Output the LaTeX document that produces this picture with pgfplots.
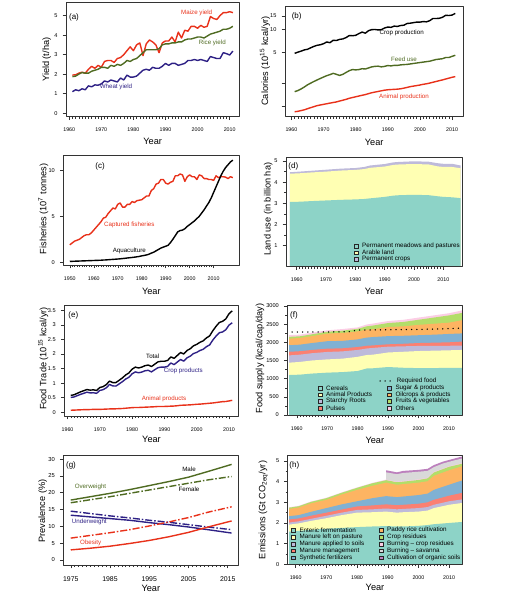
\documentclass[border=0pt]{standalone}
\usepackage{pgfplots}
\pgfplotsset{compat=1.18}
\usepackage{pgfplotstable}
\usepackage{fontspec}
\setmainfont{Liberation Sans}
\newfontfamily\rotfont{Liberation Sans}

\definecolor{cred}{HTML}{E8311A}
\definecolor{cgreen}{HTML}{4F6B22}
\definecolor{cblue}{HTML}{2E2185}
\definecolor{sA}{HTML}{8DD3C7}
\definecolor{sB}{HTML}{FFFFB3}
\definecolor{sC}{HTML}{BEBADA}
\definecolor{sD}{HTML}{FB8072}
\definecolor{sE}{HTML}{80B1D3}
\definecolor{sF}{HTML}{FDB462}
\definecolor{sG}{HTML}{B3DE69}
\definecolor{sH}{HTML}{FCCDE5}
\definecolor{sI}{HTML}{D9D9D9}
\definecolor{sJ}{HTML}{BC80BD}

\newcommand{\fs}[1]{\fontsize{#1}{#1}\selectfont}

\pgfplotsset{
  rp/.style={
    scale only axis, anchor=south west,
    axis line style={line width=0.5pt, black!80},
    tick align=outside, tick pos=left,
    major tick length=3.5pt, minor tick length=2.2pt,
    tick style={black!80, line width=0.45pt},
    xticklabel style={font=\fs{5.3}, yshift=-4.5pt},
    yticklabel style={font=\fs{5.6}, xshift=-1.5pt},
    /pgf/number format/assume math mode=true,
    /pgf/number format/1000 sep={},
    minor x tick num=9,
    line join=round,
  },
  ln/.style={line width=1.4pt, line join=round},
}

\newcommand{\lbl}[4][black]{\node[font=\fs{6.2}, text=#1, inner sep=0pt] at (#2pt,599pt-#3pt) {#4};}
\newcommand{\ylab}[3]{\node[rotate=90, font=\rotfont\fs{9.2}, inner sep=0pt] at (#1pt,599pt-#2pt) {#3};}
\newcommand{\xlab}[2]{\node[font=\fs{9.2}, inner sep=0pt] at (#1pt,599pt-#2pt) {Year};}
\newcommand{\plab}[3]{\node[font=\fs{8}, inner sep=0pt] at (#1pt,599pt-#2pt) {#3};}
\newcommand{\lsq}[4]{\draw[fill=#3, draw=black!85, line width=0.5pt] (#1pt-1.8pt,599pt-#2pt-1.8pt) rectangle ++(3.6pt,3.6pt);
  \node[anchor=west, font=\fs{6.3}, inner sep=0pt] at (#1pt+6pt,599pt-#2pt) {#4};}

\begin{document}

\pgfplotstableread{
yr maize rice wheat
1961 1.95 1.87 1.10
1962 1.97 1.90 1.20
1963 2.05 2.00 1.15
1964 2.10 2.08 1.25
1965 2.05 2.05 1.20
1966 2.25 2.05 1.40
1967 2.40 2.15 1.35
1968 2.30 2.20 1.45
1969 2.45 2.25 1.43
1970 2.35 2.35 1.50
1971 2.65 2.35 1.65
1972 2.70 2.30 1.60
1973 2.70 2.45 1.70
1974 2.60 2.40 1.65
1975 2.80 2.50 1.60
1976 2.85 2.45 1.80
1977 3.00 2.55 1.70
1978 3.20 2.70 1.95
1979 3.40 2.65 1.85
1980 3.20 2.75 1.85
1981 3.50 2.80 1.90
1982 3.60 2.95 2.05
1983 2.95 3.10 2.20
1984 3.55 3.25 2.25
1985 3.75 3.25 2.20
1986 3.65 3.25 2.35
1987 3.50 3.25 2.30
1988 3.10 3.30 2.30
1989 3.60 3.50 2.40
1990 3.70 3.55 2.55
1991 3.70 3.55 2.45
1992 3.90 3.60 2.55
1993 3.65 3.60 2.55
1994 4.15 3.65 2.45
1995 3.85 3.65 2.50
1996 4.25 3.75 2.55
1997 4.20 3.80 2.70
1998 4.45 3.80 2.70
1999 4.45 3.85 2.75
2000 4.35 3.90 2.70
2001 4.50 3.90 2.75
2002 4.40 3.85 2.70
2003 4.45 3.95 2.65
2004 4.95 4.05 2.90
2005 4.85 4.10 2.85
2006 4.80 4.15 2.80
2007 5.00 4.20 2.80
2008 5.15 4.30 3.10
2009 5.15 4.30 3.05
2010 5.20 4.35 2.98
2011 5.15 4.45 3.18
}\ta

\pgfplotstableread{
yr crop feed anim
1961 4.87 1.55 0.85
1962 5.05 1.60 0.86
1963 5.20 1.68 0.88
1964 5.40 1.78 0.90
1965 5.50 1.90 0.93
1966 5.75 2.00 0.96
1967 6.00 2.10 0.99
1968 6.20 2.20 1.02
1969 6.30 2.30 1.04
1970 6.50 2.40 1.06
1971 6.85 2.50 1.08
1972 6.70 2.58 1.10
1973 7.20 2.68 1.12
1974 7.15 2.60 1.14
1975 7.40 2.52 1.17
1976 7.50 2.60 1.20
1977 7.80 2.75 1.23
1978 8.30 2.90 1.27
1979 8.25 3.00 1.30
1980 8.35 2.97 1.33
1981 8.80 3.00 1.36
1982 9.20 3.08 1.39
1983 8.90 3.05 1.42
1984 9.60 3.15 1.46
1985 9.90 3.25 1.50
1986 9.95 3.30 1.53
1987 9.80 3.32 1.56
1988 9.90 3.25 1.59
1989 10.40 3.30 1.62
1990 10.70 3.38 1.64
1991 10.60 3.35 1.65
1992 11.00 3.40 1.66
1993 10.90 3.40 1.67
1994 11.20 3.45 1.69
1995 11.30 3.48 1.72
1996 11.90 3.50 1.76
1997 12.00 3.55 1.80
1998 12.20 3.60 1.83
1999 12.40 3.65 1.86
2000 12.40 3.70 1.89
2001 12.60 3.75 1.93
2002 12.50 3.80 1.96
2003 12.90 3.85 2.00
2004 13.80 3.95 2.05
2005 13.80 4.05 2.10
2006 13.90 4.10 2.15
2007 14.30 4.15 2.20
2008 15.20 4.30 2.26
2009 15.10 4.30 2.32
2010 15.30 4.45 2.38
2011 16.10 4.60 2.43
}\tb

\pgfplotstableread{
yr cap aqua
1950 1.9 0.10
1951 2.1 0.11
1952 2.3 0.12
1953 2.4 0.13
1954 2.5 0.14
1955 2.7 0.15
1956 2.9 0.16
1957 3.0 0.17
1958 3.0 0.18
1959 3.2 0.19
1960 3.5 0.20
1961 3.8 0.21
1962 4.1 0.22
1963 4.4 0.23
1964 4.8 0.25
1965 4.9 0.26
1966 5.3 0.28
1967 5.6 0.30
1968 5.9 0.32
1969 5.8 0.34
1970 6.3 0.36
1971 6.45 0.38
1972 6.0 0.41
1973 6.0 0.44
1974 6.3 0.47
1975 6.3 0.50
1976 6.6 0.53
1977 6.5 0.56
1978 6.7 0.60
1979 6.75 0.64
1980 6.8 0.70
1981 7.0 0.75
1982 7.2 0.80
1983 7.2 0.88
1984 7.8 1.00
1985 8.0 1.10
1986 8.5 1.25
1987 8.6 1.40
1988 9.0 1.55
1989 9.0 1.65
1990 8.6 1.75
1991 8.5 1.85
1992 8.7 2.15
1993 8.8 2.50
1994 9.4 2.90
1995 9.4 3.30
1996 9.6 3.45
1997 9.5 3.50
1998 8.8 3.65
1999 9.3 3.90
2000 9.5 4.10
2001 9.3 4.30
2002 9.3 4.50
2003 9.0 4.75
2004 9.5 5.00
2005 9.4 5.35
2006 9.1 5.70
2007 9.1 6.10
2008 9.0 6.50
2009 9.0 7.00
2010 8.9 7.60
2011 9.4 8.20
2012 9.2 8.80
2013 9.3 9.40
2014 9.3 9.90
2015 9.25 10.30
2016 9.1 10.60
2017 9.3 10.90
2018 9.2 11.10
}\tc

\pgfplotstableread{
x mea ara cro
1957.7 3.06 4.40 4.47
1961 3.07 4.42 4.50
1965 3.10 4.46 4.54
1970 3.13 4.50 4.59
1975 3.16 4.55 4.64
1980 3.18 4.58 4.67
1983 3.20 4.62 4.72
1985 3.23 4.68 4.79
1990 3.30 4.74 4.86
1993 3.36 4.82 4.94
1995 3.38 4.84 4.96
2000 3.40 4.86 4.99
2005 3.38 4.84 4.97
2008 3.33 4.75 4.90
2010 3.30 4.72 4.87
2013 3.28 4.72 4.87
2015.9 3.24 4.66 4.79
}\td

\pgfplotstableread{
yr tot crop anim
1961 0.58 0.510 0.070
1962 0.60 0.525 0.075
1963 0.65 0.570 0.080
1964 0.70 0.615 0.085
1965 0.74 0.650 0.090
1966 0.78 0.690 0.090
1967 0.76 0.665 0.095
1968 0.77 0.670 0.100
1969 0.75 0.650 0.100
1970 0.85 0.750 0.100
1971 0.88 0.775 0.105
1972 0.95 0.840 0.110
1973 1.07 0.955 0.115
1974 1.02 0.905 0.115
1975 1.02 0.900 0.120
1976 1.10 0.975 0.125
1977 1.18 1.050 0.130
1978 1.28 1.140 0.140
1979 1.35 1.200 0.150
1980 1.48 1.320 0.160
1981 1.55 1.385 0.165
1982 1.52 1.355 0.165
1983 1.55 1.380 0.170
1984 1.60 1.425 0.175
1985 1.62 1.440 0.180
1986 1.57 1.385 0.185
1987 1.65 1.460 0.190
1988 1.73 1.530 0.200
1989 1.75 1.550 0.200
1990 1.75 1.550 0.200
1991 1.78 1.575 0.205
1992 1.90 1.690 0.210
1993 1.85 1.635 0.215
1994 1.95 1.725 0.225
1995 2.05 1.810 0.240
1996 2.00 1.755 0.245
1997 2.12 1.870 0.250
1998 2.18 1.925 0.255
1999 2.28 2.015 0.265
2000 2.33 2.055 0.275
2001 2.40 2.120 0.280
2002 2.45 2.160 0.290
2003 2.55 2.250 0.300
2004 2.62 2.310 0.310
2005 2.80 2.480 0.320
2006 2.95 2.615 0.335
2007 3.08 2.730 0.350
2008 3.12 2.755 0.365
2009 3.20 2.830 0.370
2010 3.38 2.990 0.390
2011 3.48 3.070 0.410
}\te

\pgfplotstableread{
x cer ani sta pul sug oil fru oth
1957.5 1100 1440 1640 1740 1920 2100 2150 2200
1961 1110 1460 1660 1755 1935 2120 2165 2210
1965 1140 1500 1700 1790 1980 2170 2220 2265
1970 1165 1530 1735 1825 2030 2240 2290 2330
1975 1180 1550 1750 1835 2040 2260 2320 2365
1980 1210 1600 1790 1870 2080 2300 2370 2410
1983 1280 1650 1830 1905 2130 2350 2440 2490
1985 1285 1660 1845 1915 2145 2360 2460 2515
1990 1320 1720 1880 1945 2170 2420 2530 2585
1995 1300 1740 1890 1960 2180 2440 2560 2620
2000 1290 1760 1900 1980 2195 2480 2620 2680
2005 1290 1770 1900 1990 2210 2510 2680 2740
2010 1300 1780 1905 2000 2230 2540 2740 2800
2014.4 1300 1790 1910 2020 2245 2610 2810 2880
}\tf

\pgfplotstableread{
x req
1958.5 2283
1970 2285
1977 2290
1980 2335
1990 2345
2000 2355
2010 2375
2013.5 2390
}\tfr

\pgfplotstableread{
yr owm owf uwm uwf obm obf
1975 17.8 17.0 13.3 14.5 3.0 6.5
1980 18.8 17.9 12.8 13.8 3.5 7.3
1985 19.8 18.8 12.3 13.1 4.1 8.1
1990 20.9 19.8 11.8 12.5 4.9 9.0
1995 22.1 20.8 11.1 11.8 5.8 10.1
2000 23.3 21.8 10.5 11.2 6.9 11.3
2005 24.6 22.8 9.8 10.5 8.2 12.6
2010 26.3 23.8 9.0 9.8 9.8 14.2
2016 28.4 24.8 8.0 9.0 11.6 15.8
}\tg

\pgfplotstableread{
x tea yel lav sal blu ora gre pin
1957.9 1.58 1.92 2.02 2.17 2.33 2.68 2.74 2.76
1961 1.62 1.98 2.08 2.22 2.38 2.75 2.81 2.83
1965 1.67 2.10 2.20 2.35 2.54 2.95 3.02 3.04
1970 1.72 2.23 2.35 2.50 2.72 3.12 3.20 3.22
1975 1.76 2.38 2.50 2.65 2.90 3.38 3.46 3.48
1980 1.80 2.50 2.63 2.80 3.05 3.60 3.70 3.72
1985 1.83 2.52 2.66 2.85 3.20 3.80 3.92 3.94
1989.5 1.85 2.55 2.70 2.90 3.30 3.95 4.07 4.10
1993 1.83 2.50 2.66 2.86 3.25 3.85 3.97 4.00
1995 1.83 2.52 2.68 2.88 3.28 3.88 4.00 4.03
2000 1.86 2.55 2.72 2.93 3.35 3.95 4.08 4.11
2003 1.90 2.60 2.77 3.00 3.42 4.02 4.16 4.19
2005 1.94 2.72 2.88 3.12 3.60 4.28 4.44 4.47
2010 2.00 2.88 3.05 3.32 3.85 4.55 4.72 4.75
2014.3 2.05 2.97 3.14 3.46 4.06 4.75 4.87 4.90
}\th

\pgfplotstableread{
x gry pur
1989.5 4.45 4.55
1993 4.36 4.45
1995 4.42 4.52
2000 4.48 4.57
2003 4.52 4.62
2005 4.70 4.80
2008 4.88 4.97
2010 4.96 5.05
2012 5.04 5.13
2014.3 5.12 5.22
}\thb

\begin{tikzpicture}
\useasboundingbox (0,0) rectangle (504pt,599pt);

% ---------------- (a)
\begin{axis}[rp, at={(66pt,482.3pt)}, width=173.3pt, height=114pt,
  xmin=1959, xmax=2013, ymin=-0.18, ymax=5.66,
  xtick={1960,1970,...,2010}, ytick={0,1,...,5}]
\addplot[ln, cred] table[x=yr,y=maize] {\ta};
\addplot[ln, cgreen] table[x=yr,y=rice] {\ta};
\addplot[ln, cblue] table[x=yr,y=wheat] {\ta};
\end{axis}
\plab{74}{17.7}{(a)}
\lbl[cred]{196.7}{13.3}{Maize yield}
\lbl[cgreen]{212.3}{42.7}{Rice yield}
\lbl[cblue]{116}{87.3}{Wheat yield}
\ylab{46.7}{59.7}{Yield (t/ha)}
\xlab{152.65}{141.7}

% ---------------- (b)
\begin{axis}[rp, at={(285pt,482.3pt)}, width=178.3pt, height=110pt,
  ymode=log, xmin=1958, xmax=2013.5, ymin=0.733, ymax=19.66,
  xtick={1960,1970,...,2010}, ytick={1,2,5,10,15}, yticklabels={,,5,10,15},
  yminorticks=false]
\addplot[ln, black] table[x=yr,y=crop] {\tb};
\addplot[ln, cgreen] table[x=yr,y=feed] {\tb};
\addplot[ln, cred] table[x=yr,y=anim] {\tb};
\end{axis}
\plab{296.7}{16.7}{(b)}
\lbl{401.7}{32.7}{Crop production}
\lbl[cgreen]{404}{59.3}{Feed use}
\lbl[cred]{404}{97.3}{Animal production}
\ylab{265}{61}{Calories (10\textsuperscript{15} kcal/yr)}
\xlab{374.15}{142.7}

% ---------------- (c)
\begin{axis}[rp, at={(63.3pt,334pt)}, width=176pt, height=110pt,
  xmin=1947.3, xmax=2020.7, ymin=-0.29, ymax=11.66,
  xtick={1950,1960,...,2010}, ytick={0,5,10}]
\addplot[ln, cred] table[x=yr,y=cap] {\tc};
\addplot[ln, black] table[x=yr,y=aqua] {\tc};
\end{axis}
\plab{100}{166.7}{(c)}
\lbl[cred]{129.3}{225.3}{Captured fisheries}
\lbl{129.3}{250.7}{Aquaculture}
\ylab{43.3}{209}{Fisheries (10\textsuperscript{7} tonnes)}
\xlab{151.3}{291.7}

% ---------------- (d)
\begin{axis}[rp, at={(286pt,332.6pt)}, width=176.3pt, height=109.1pt,
  xmin=1956.35, xmax=2016.46, ymin=0, ymax=5.18, axis on top,
  xtick={1960,1970,...,2010}, ytick={1,...,5}, minor y tick num=1]
\addplot[fill=sC, draw=none] table[x=x,y=cro] {\td} \closedcycle;
\addplot[fill=sB, draw=none] table[x=x,y=ara] {\td} \closedcycle;
\addplot[fill=sA, draw=none] table[x=x,y=mea] {\td} \closedcycle;
\end{axis}
\plab{293.3}{166.7}{(d)}
\lsq{356}{246}{sA}{Permanent meadows and pastures}
\lsq{356}{252.7}{sB}{Arable land}
\lsq{356}{259.3}{sC}{Permanent crops}
\ylab{268.3}{209}{Land use (in billion ha)}
\xlab{374.15}{291}

% ---------------- (e)
\begin{axis}[rp, at={(64.3pt,183pt)}, width=174.4pt, height=111pt,
  xmin=1959, xmax=2013, ymin=-0.127, ymax=3.68,
  xtick={1960,1970,...,2010}, ytick={0,0.5,...,3.5},
  yticklabel style={/pgf/number format/fixed}]
\addplot[ln, black] table[x=yr,y=tot] {\te};
\addplot[ln, cblue] table[x=yr,y=crop] {\te};
\addplot[ln, cred] table[x=yr,y=anim] {\te};
\end{axis}
\plab{73.3}{315.7}{(e)}
\lbl{152.7}{356.7}{Total}
\lbl[cblue]{183.3}{371}{Crop products}
\lbl[cred]{164}{399.3}{Animal products}
\ylab{43.3}{358.5}{Food Trade (10\textsuperscript{15} kcal/yr)}
\xlab{151.5}{439.3}

% ---------------- (f)
\begin{axis}[rp, at={(287.3pt,184pt)}, width=175pt, height=110pt,
  xmin=1956.9, xmax=2014.4, ymin=0, ymax=3027, axis on top,
  xtick={1960,1970,...,2010}, ytick={0,500,...,3000}, minor y tick num=1]
\addplot[fill=sH, draw=none] table[x=x,y=oth] {\tf} \closedcycle;
\addplot[fill=sG, draw=none] table[x=x,y=fru] {\tf} \closedcycle;
\addplot[fill=sF, draw=none] table[x=x,y=oil] {\tf} \closedcycle;
\addplot[fill=sE, draw=none] table[x=x,y=sug] {\tf} \closedcycle;
\addplot[fill=sD, draw=none] table[x=x,y=pul] {\tf} \closedcycle;
\addplot[fill=sC, draw=none] table[x=x,y=sta] {\tf} \closedcycle;
\addplot[fill=sB, draw=none] table[x=x,y=ani] {\tf} \closedcycle;
\addplot[fill=sA, draw=none] table[x=x,y=cer] {\tf} \closedcycle;
\addplot[black, line width=1.5pt, line cap=round, dash pattern=on 0pt off 5.2pt] table[x=x,y=req] {\tfr};
\end{axis}
\plab{294}{315.7}{(f)}
\draw[black, line width=1.5pt, line cap=round, dash pattern=on 0pt off 5pt] (380pt,218pt) -- (391pt,218pt);
\node[anchor=west, font=\fs{6.3}, inner sep=0pt] at (396.7pt,218pt) {Required food};
\lsq{320}{388}{sA}{Cereals}
\lsq{320}{394.7}{sB}{Animal Products}
\lsq{320}{401.3}{sC}{Starchy Roots}
\lsq{320}{408.3}{sD}{Pulses}
\lsq{389.3}{388}{sE}{Sugar \& products}
\lsq{389.3}{394.7}{sF}{Oilcrops \& products}
\lsq{389.3}{401.3}{sG}{Fruits \& vegetables}
\lsq{389.3}{408.3}{sH}{Others}
\ylab{260}{358.5}{Food supply (kcal/cap/day)}
\xlab{374.8}{440}

% ---------------- (g)
\begin{axis}[rp, at={(63.3pt,34pt)}, width=175pt, height=110pt,
  xmin=1973.1, xmax=2017.7, ymin=-1.49, ymax=31.19,
  xtick={1975,1985,...,2015}, ytick={0,5,...,30},
  xticklabel style={font=\fs{6.9}}, yticklabel style={font=\fs{5.8}}]
\addplot[ln, cgreen] table[x=yr,y=owm] {\tg};
\addplot[ln, cgreen, dash pattern=on 7pt off 2pt on 1.5pt off 2pt] table[x=yr,y=owf] {\tg};
\addplot[ln, cblue] table[x=yr,y=uwm] {\tg};
\addplot[ln, cblue, dash pattern=on 7pt off 2pt on 1.5pt off 2pt] table[x=yr,y=uwf] {\tg};
\addplot[ln, cred] table[x=yr,y=obm] {\tg};
\addplot[ln, cred, dash pattern=on 7pt off 2pt on 1.5pt off 2pt] table[x=yr,y=obf] {\tg};
\end{axis}
\plab{71}{465}{(g)}
\lbl[cgreen]{90.5}{486.7}{Overweight}
\lbl{189}{469.3}{Male}
\lbl{189}{489.3}{Female}
\lbl[cblue]{89.3}{521.7}{Underweight}
\lbl[cred]{90.7}{543.3}{Obesity}
\ylab{42.7}{511}{Prevalence (\%)}
\xlab{150.8}{588.3}

% ---------------- (h)
\begin{axis}[rp, at={(287.7pt,34.7pt)}, width=174.6pt, height=109.3pt,
  xmin=1957.4, xmax=2014.3, ymin=0, ymax=5.29, axis on top,
  xtick={1960,1970,...,2010}, ytick={0,...,5}, minor y tick num=1]
\addplot[fill=sJ, draw=none] table[x=x,y=pur] {\thb} \closedcycle;
\addplot[fill=sI, draw=none] table[x=x,y=gry] {\thb} \closedcycle;
\addplot[fill=sH, draw=none] table[x=x,y=pin] {\th} \closedcycle;
\addplot[fill=sG, draw=none] table[x=x,y=gre] {\th} \closedcycle;
\addplot[fill=sF, draw=none] table[x=x,y=ora] {\th} \closedcycle;
\addplot[fill=sE, draw=none] table[x=x,y=blu] {\th} \closedcycle;
\addplot[fill=sD, draw=none] table[x=x,y=sal] {\th} \closedcycle;
\addplot[fill=sC, draw=none] table[x=x,y=lav] {\th} \closedcycle;
\addplot[fill=sB, draw=none] table[x=x,y=yel] {\th} \closedcycle;
\addplot[fill=sA, draw=none] table[x=x,y=tea] {\th} \closedcycle;
\end{axis}
\plab{294.3}{465}{(h)}
\lsq{293.3}{530}{sA}{Enteric fermentation}
\lsq{293.3}{537}{sB}{Manure left on pasture}
\lsq{293.3}{544}{sC}{Manure applied to soils}
\lsq{293.3}{550.7}{sD}{Manure management}
\lsq{293.3}{557.7}{sE}{Synthetic fertilizers}
\lsq{381}{530}{sF}{Paddy rice cultivation}
\lsq{381}{537}{sG}{Crop residues}
\lsq{381}{544}{sH}{Burning -- crop residues}
\lsq{381}{550.7}{sI}{Burning -- savanna}
\lsq{381}{557.7}{sJ}{Cultivation of organic soils}
\ylab{263.3}{510}{Emissions (Gt CO\textsubscript{2eq}/yr)}
\xlab{375}{587.3}

\end{tikzpicture}
\end{document}
